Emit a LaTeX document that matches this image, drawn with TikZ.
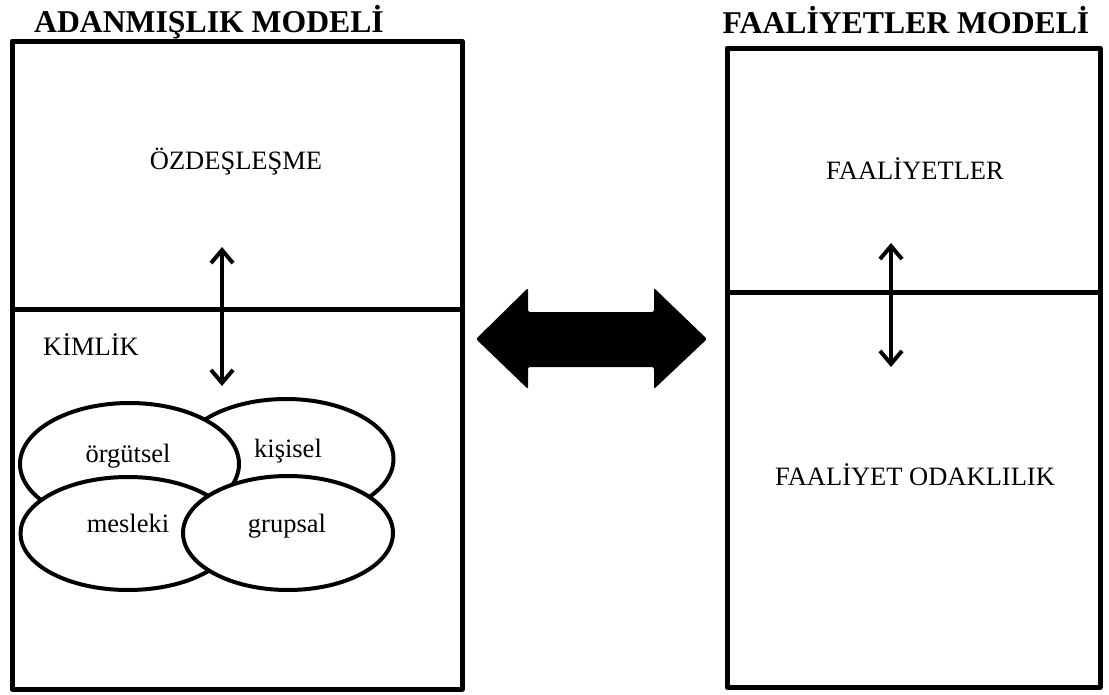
\documentclass[tikz,border=0pt]{standalone}
\usepackage{fontspec}
\setmainfont{Liberation Serif}
\usetikzlibrary{arrows.meta,shapes.geometric}
\tikzset{
	modelbox/.style={line width=5pt, line join=round},
	lbl/.style={font=\fontsize{26.5}{30}\selectfont, inner sep=0pt},
	modeltitle/.style={font=\bfseries\fontsize{31.7}{36}\selectfont, inner sep=0pt},
	kimlikpart/.style={draw, ellipse, fill=white, line width=4pt, inner sep=0pt},
	linkarrow/.style={line width=4pt, {Straight Barb[length=13pt, width=22pt]}-{Straight Barb[length=13pt, width=22pt]}}
}

\begin{document}
\begin{tikzpicture}[x=1pt, y=-1pt]
			%%%%% START %%%%%
			\useasboundingbox (0, 0) rectangle (1109, 694);
			
			% titles
			\node[modeltitle, anchor=base] (adanmislik) at (209, 32) {ADANMIŞLIK MODELİ};
			\node[modeltitle, anchor=base] (faaliyetlermodel) at (906, 33) {FAALİYETLER MODELİ};
			
			% left model
			\draw[modelbox] (12, 41) rectangle (462, 689);
			\draw[modelbox] (12, 309) -- (462, 309);
			\node[lbl, anchor=base] (ozdeslesme) at (236, 169) {ÖZDEŞLEŞME};
			\node[lbl, anchor=base west] (kimlik) at (43, 355) {KİMLİK};
			
			\coordinate (ltop) at (222, 247);
			\coordinate (lbot) at (222, 386);
			\draw[linkarrow] (ltop) -- (lbot);
			
			\node[kimlikpart, minimum width=215, minimum height=120] (kisisel) at (286, 459) {};
			\node[kimlikpart, minimum width=219, minimum height=122] (orgutsel) at (129.5, 464) {};
			\node[kimlikpart, minimum width=215, minimum height=113] (mesleki) at (128, 533.5) {};
			\node[kimlikpart, minimum width=210, minimum height=114] (grupsal) at (288, 533) {};
			
			\node[lbl, anchor=base] at (128, 462) {örgütsel};
			\node[lbl, anchor=base] at (288, 457) {kişisel};
			\node[lbl, anchor=base] at (128, 532) {mesleki};
			\node[lbl, anchor=base] at (287, 532) {grupsal};
			
			% big double arrow
			\fill[rounded corners=2pt] (476, 339) -- (528, 288) -- (528, 312) -- (654, 312) -- (654, 288)
				-- (707, 339) -- (654, 389) -- (654, 367) -- (528, 367) -- (528, 389) -- cycle;
			
			% right model
			\draw[modelbox] (727, 48) rectangle (1100, 687);
			\draw[modelbox] (727, 292) -- (1100, 292);
			\node[lbl, anchor=base] (faaliyetler) at (915, 179) {FAALİYETLER};
			\node[lbl, anchor=base] (odaklilik) at (915, 485) {FAALİYET ODAKLILIK};
			
			\coordinate (rtop) at (891, 243);
			\coordinate (rbot) at (891, 367);
			\draw[linkarrow] (rtop) -- (rbot);
			
			%%%%% END %%%%%
\end{tikzpicture}
\end{document}
